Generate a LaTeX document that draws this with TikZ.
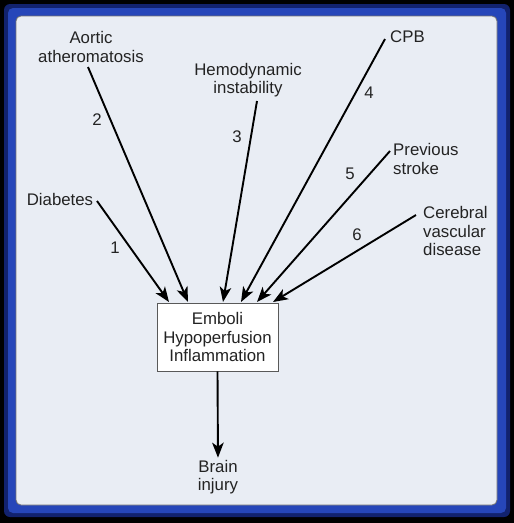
\documentclass[tikz,border=0pt]{standalone}
\usepackage{fontspec}
\setmainfont{Liberation Sans}
\usetikzlibrary{arrows.meta}
\definecolor{panel}{RGB}{233,237,244}
\definecolor{rimblue}{RGB}{38,70,185}
\definecolor{rimdark}{RGB}{18,34,110}
\definecolor{ink}{RGB}{35,35,35}
\begin{document}
\begin{tikzpicture}[x=1pt, y=-1pt,
            label/.style={text=ink, font=\fontsize{16.8}{18.6}\selectfont, inner sep=0pt, align=center},
            num/.style={text=ink, font=\fontsize{16.8}{18.6}\selectfont, inner sep=0pt},
            causebox/.style={draw=black!65, line width=0.9pt, fill=white, text=ink,
                font=\fontsize{16.8}{18.6}\selectfont, align=center,
                minimum width=121pt, minimum height=68pt, inner sep=0pt},
            cause/.style={draw=black, line width=1.9pt, -{Stealth[length=15pt, width=11.5pt, inset=4pt]}}
        ]
        \fill [black] (0,0) rectangle (514,523);
        \useasboundingbox (0,0) rectangle (514,523);
        \fill [rimdark, rounded corners=6pt] (4,4) rectangle (510,517);
        \fill [rimblue, rounded corners=5pt] (8,8) rectangle (506,513);
        \draw [fill=panel, draw=black!55, line width=0.8pt, rounded corners=5pt] (16,16) rectangle (497,505);

        \node [causebox] (box) at (217.5,337) {Emboli\\Hypoperfusion\\Inflammation};

        \node [label] (diab) at (60,199) {Diabetes};
        \node [label] (aort) at (91,47) {Aortic\\atheromatosis};
        \node [label] (hemo) at (248,80) {Hemodynamic\\instability};
        \node [label, anchor=west] (cpb) at (390,37) {CPB};
        \node [label, anchor=west, align=left] (prev) at (393,159) {Previous\\stroke};
        \node [label, anchor=west, align=left] (cere) at (423,231) {Cerebral\\vascular\\disease};
        \node [label] (brain) at (218,477) {Brain\\injury};

        \coordinate (s1) at (97,201);
        \coordinate (s2) at (88,67);
        \coordinate (s3) at (257,101);
        \coordinate (s4) at (385,39);
        \coordinate (s5) at (390,151);
        \coordinate (s6) at (416,215);

        \coordinate (e1) at (169,302);
        \coordinate (e2) at (188,302);
        \coordinate (e3) at (223,302);
        \coordinate (e4) at (241,302);
        \coordinate (e5) at (257,302);
        \coordinate (e6) at (273,302);

        \draw [cause] (s1) -- (e1);
        \draw [cause] (s2) -- (e2);
        \draw [cause] (s3) -- (e3);
        \draw [cause] (s4) -- (e4);
        \draw [cause] (s5) -- (e5);
        \draw [cause] (s6) -- (e6);
        \draw [cause, shorten >=2pt] (box.south) -- (brain.north);

        \path (115,248) node [num] (n1) {1}
              (97,120)  node [num] (n2) {2}
              (237,137) node [num] (n3) {3}
              (369,93)  node [num] (n4) {4}
              (350,174) node [num] (n5) {5}
              (357,235) node [num] (n6) {6};
    \end{tikzpicture}
\end{document}
